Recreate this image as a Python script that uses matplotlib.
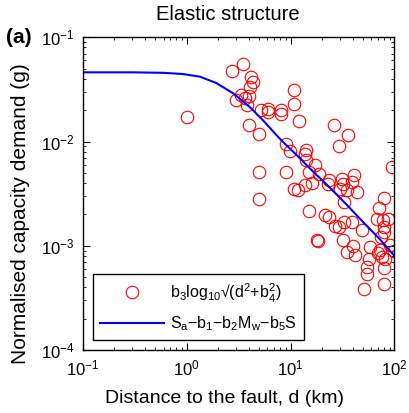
"""Elastic structure: normalised capacity demand against distance to the fault."""
import matplotlib
matplotlib.use('Agg')
import matplotlib.pyplot as plt
from matplotlib.ticker import LogLocator, LogFormatterMathtext, NullFormatter

plt.rcParams['font.family'] = ['Liberation Sans', 'DejaVu Sans']
plt.rcParams['mathtext.fontset'] = 'custom'
plt.rcParams['mathtext.rm'] = 'Liberation Sans'
plt.rcParams['mathtext.it'] = 'Liberation Sans:italic'
plt.rcParams['mathtext.bf'] = 'Liberation Sans:bold'

# scatter: distance (km) and demand (g)
distance = [2.75, 3.51, 4.17, 4.39, 4.08, 3.34, 2.99, 3.65, 4.01, 3.79,
            5.17, 6.04, 6.04, 8.06, 8.06, 10.9, 10.9, 12.1, 1.00, 4.01,
            5.01, 26.3, 35.4, 29.0, 9.07, 9.91, 14.0, 13.8, 14.0, 17.3,
            14.9, 18.6, 4.98, 9.07, 4.98, 10.7, 11.9, 13.8, 16.1, 23.2,
            22.7, 31.3, 31.7, 40.4, 39.0, 30.1, 34.9, 43.6, 32.4, 94.8,
            78.7, 70.4, 15.1, 21.6, 23.2, 26.9, 29.0, 32.4, 39.0, 48.7,
            67.9, 77.6, 86.8, 78.7, 79.9, 74.2, 17.9, 18.2, 31.7, 39.5,
            34.9, 41.3, 58.6, 73.1, 91.3, 98.3, 56.4, 75.9, 78.7, 54.4,
            54.4, 68.9, 81.7, 50.5, 78.7]
demand = [0.0475, 0.0551, 0.0416, 0.0373, 0.0334, 0.0278, 0.0249, 0.0264,
          0.0272, 0.0223, 0.0200, 0.0207, 0.0192, 0.0200, 0.0185, 0.0310,
          0.0231, 0.0157, 0.0172, 0.0143, 0.0119, 0.0143, 0.0115, 0.00907,
          0.00942, 0.00812, 0.00838, 0.00767, 0.00672, 0.00593, 0.00511,
          0.00486, 0.00511, 0.00511, 0.00284, 0.00347, 0.00341, 0.00381,
          0.00401, 0.00432, 0.00396, 0.00442, 0.00396, 0.00475, 0.00410,
          0.00354, 0.00341, 0.00329, 0.00264, 0.00571, 0.00290, 0.00233,
          0.00216, 0.00196, 0.00187, 0.00154, 0.00152, 0.00169, 0.00169,
          0.00143, 0.00179, 0.00176, 0.00179, 0.00152, 0.00136, 0.00122,
          0.00113, 0.00111, 0.00113, 0.00099, 0.000873, 0.000813, 0.000976,
          0.000907, 0.00101, 0.000887, 0.000755, 0.000783, 0.000606,
          0.000628, 0.000542, 0.000855, 0.000755, 0.000389, 0.000428]

# model curve, sampled off the figure
curve_distance = [0.1, 0.3, 0.6, 0.92, 1.34, 1.93, 2.8, 4.05, 5.47, 7.92,
                  11.5, 16.6, 24.0, 34.7, 50.2, 72.6, 100.0]
curve_demand = [0.0462, 0.0462, 0.0457, 0.0445, 0.0420, 0.0365, 0.0291,
                0.0215, 0.0159, 0.0106, 0.00740, 0.00512, 0.00360, 0.00248,
                0.00168, 0.00115, 0.00080]

scatter_label = (r'b$_\mathregular{3}$log$_\mathregular{10}$'
                 r'√(d$^\mathregular{2}$+b$_\mathregular{4}^\mathregular{2}$)')
curve_label = (r'S$_\mathregular{a}$−b$_\mathregular{1}$−b$_\mathregular{2}$'
               r'M$_\mathregular{w}$−b$_\mathregular{5}$S')

figure = plt.figure(figsize=(4.09, 4.13), dpi=100)
ax = figure.add_axes([0.202, 0.1525, 0.7625, 0.757])

ax.plot(distance, demand, linestyle='none', marker='o', markersize=9,
        markerfacecolor='none', markeredgecolor='#ff0000',
        markeredgewidth=0.8, label=scatter_label)
ax.plot(curve_distance, curve_demand, color='#0000ff', linewidth=1.5,
        label=curve_label)

ax.set_xscale('log')
ax.set_yscale('log')
ax.set_xlim(0.1, 100)
ax.set_ylim(1e-4, 1e-1)

for axis in (ax.xaxis, ax.yaxis):
    axis.set_major_locator(LogLocator(base=10, numticks=10))
    axis.set_minor_locator(LogLocator(base=10, subs=range(2, 10), numticks=10))
    axis.set_major_formatter(LogFormatterMathtext())
    axis.set_minor_formatter(NullFormatter())

ax.tick_params(which='both', direction='in', top=True, right=True,
               labelsize=12, color='black')
ax.tick_params(which='major', length=5, width=0.8, pad=6)
ax.tick_params(which='minor', length=2.5, width=0.6)
for spine in ax.spines.values():
    spine.set_linewidth(1.0)
    spine.set_color('black')

ax.set_title('Elastic structure', fontsize=14.5, x=0.466, y=1.072,
             va='center', pad=0)
ax.set_xlabel('Distance to the fault, d (km)', fontsize=14)
ax.xaxis.set_label_coords(0.456, -0.154)
ax.xaxis.label.set_va('center')
ax.set_ylabel('Normalised capacity demand (g)', fontsize=15)
ax.yaxis.set_label_coords(-0.198, 0.437)
ax.yaxis.label.set_va('center')

legend = ax.legend(loc='lower left', bbox_to_anchor=(0.032, 0.032),
                   borderaxespad=0, fontsize=11.5, handlelength=4.0,
                   fancybox=False, edgecolor='black', framealpha=1,
                   borderpad=0.45, labelspacing=0.6, handletextpad=0.4)
legend.get_frame().set_linewidth(1.0)

figure.text(0.015, 0.908, '(a)', fontsize=15, fontweight='bold',
            va='center', ha='left')

figure.savefig('out.png', dpi=100)
